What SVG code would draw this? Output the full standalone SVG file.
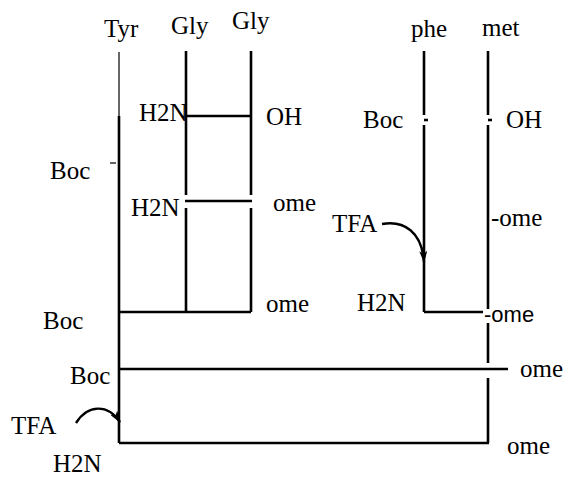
<svg xmlns="http://www.w3.org/2000/svg" width="568" height="478" viewBox="0 0 568 478">
<style>
  text { font-family: "Liberation Serif", "Times New Roman", serif; font-size: 25px; fill: #000; }
  text.sans { font-family: "Liberation Sans", Arial, sans-serif; font-size: 22px; }
  .ln { stroke: #000; stroke-width: 2.6; fill: none; }
  .thin { stroke: #000; stroke-width: 1.2; fill: none; }
  .arr { stroke: #000; stroke-width: 2.4; fill: none; marker-end: url(#ah); }
</style>
<defs>
  <marker id="ah" viewBox="0 0 12 8" refX="11" refY="4" markerWidth="12" markerHeight="8" orient="auto" markerUnits="userSpaceOnUse">
    <path d="M0,0 L12,4 L0,8 L3,4 Z" fill="#000"/>
  </marker>
</defs>
<rect width="568" height="478" fill="#fff"/>

<g id="tyr">
  <text x="104" y="37">Tyr</text>
  <line class="thin" x1="119" y1="52" x2="119" y2="116"/>
  <line class="ln" x1="119" y1="116" x2="119" y2="443"/>
  <line class="thin" x1="110" y1="163" x2="116" y2="163"/>
  <text x="50" y="179">Boc</text>
</g>
<g id="gly1">
  <text x="171" y="34">Gly</text>
  <line class="ln" x1="186" y1="51" x2="186" y2="195"/>
  <line class="ln" x1="186" y1="208" x2="186" y2="312"/>
</g>
<g id="gly2">
  <text x="232" y="29">Gly</text>
  <line class="ln" x1="251" y1="51" x2="251" y2="195"/>
  <line class="ln" x1="251" y1="208" x2="251" y2="312"/>
</g>
<g id="glygly">
  <text x="139" y="121">H2N</text>
  <text x="266" y="125">OH</text>
</g>
<g id="glygly-ome">
  <text x="131" y="216">H2N</text>
  <text x="273" y="211">ome</text>
</g>
<g id="tripeptide">
  <text x="43" y="329">Boc</text>
  <text x="266" y="312">ome</text>
</g>
<g id="phe">
  <text x="411" y="37">phe</text>
  <line class="ln" x1="424" y1="51" x2="424" y2="115"/>
  <line class="ln" x1="424" y1="120" x2="428" y2="120"/>
  <line class="ln" x1="424" y1="125" x2="424" y2="312"/>
  <text x="363" y="128">Boc</text>
  <text x="332" y="232">TFA</text>
  <text x="357" y="311">H2N</text>
</g>
<g id="met">
  <text x="482" y="36">met</text>
  <line class="ln" x1="488" y1="51" x2="488" y2="115"/>
  <line class="ln" x1="488" y1="120" x2="492" y2="120"/>
  <line class="ln" x1="488" y1="125" x2="488" y2="309"/>
  <line class="ln" x1="488" y1="323" x2="488" y2="363"/>
  <line class="ln" x1="488" y1="378" x2="488" y2="443"/>
  <text x="506" y="128">OH</text>
  <text x="491" y="226">-ome</text>
  <text class="sans" x="484" y="322">-ome</text>
</g>
<g id="final">
  <text x="70" y="384">Boc</text>
  <text x="520" y="377">ome</text>
  <text x="11" y="434">TFA</text>
  <text x="53" y="472">H2N</text>
  <text x="507" y="454">ome</text>
</g>

<g id="connectors">
  <line class="ln" x1="185" y1="201" x2="252" y2="201"/>
  <line class="ln" x1="186" y1="116" x2="251" y2="116"/>
  <line class="ln" x1="119" y1="312" x2="251" y2="312"/>
  <line class="ln" x1="424" y1="312" x2="483" y2="312"/>
  <line class="ln" x1="119" y1="369" x2="508" y2="369"/>
  <line class="ln" x1="119" y1="443" x2="489" y2="443"/>
  <path class="arr" d="M382,224 C404,220 422,232 424,262"/>
  <path class="arr" d="M76,423 C88,404 108,404 120,422"/>
</g>
</svg>
